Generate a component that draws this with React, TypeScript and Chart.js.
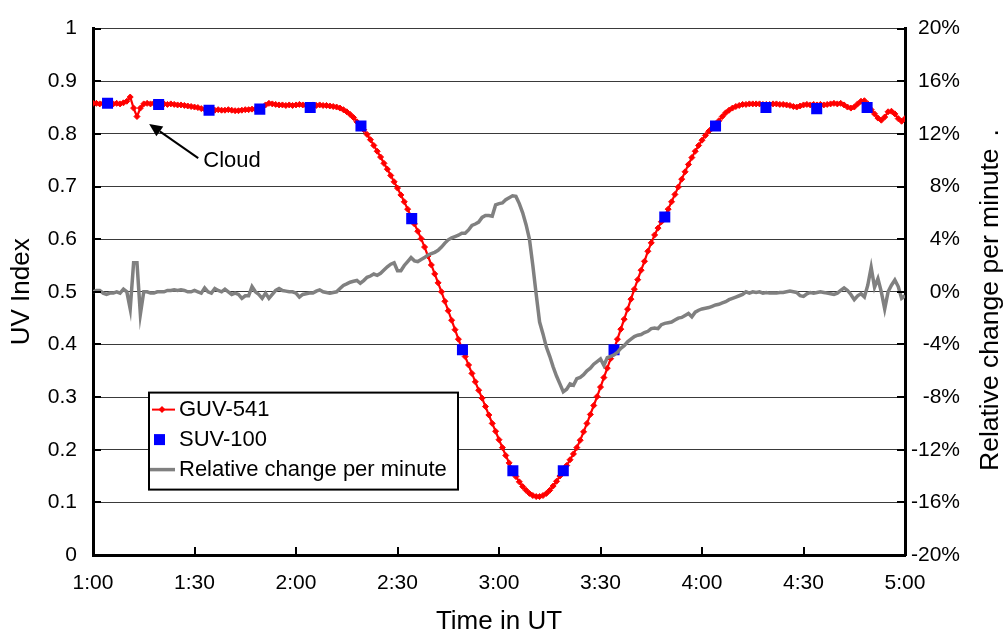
import React, { useEffect, useRef } from 'react';
import { Chart, registerables } from 'chart.js';

Chart.register(...registerables);

// ---------------- data ----------------
const X_TICK_LABELS = ['1:00', '1:30', '2:00', '2:30', '3:00', '3:30', '4:00', '4:30', '5:00'];

// GUV-541 UV index, one value per minute from 1:00 (index 0) to 5:00 (index 240)
const GUV_541 = [
  0.858, 0.858, 0.857, 0.858, 0.859, 0.858, 0.857, 0.858, 0.857, 0.859,
  0.862, 0.870, 0.849, 0.833, 0.849, 0.857, 0.858, 0.857, 0.858, 0.857,
  0.858, 0.857, 0.856, 0.857, 0.856, 0.855, 0.855, 0.854, 0.853, 0.852,
  0.851, 0.850, 0.848, 0.847, 0.846, 0.845, 0.845, 0.846, 0.845, 0.845,
  0.846, 0.845, 0.844, 0.844, 0.845, 0.846, 0.846, 0.847, 0.847, 0.848,
  0.851, 0.855, 0.858, 0.857, 0.856, 0.855, 0.855, 0.854, 0.855, 0.854,
  0.855, 0.856, 0.855, 0.854, 0.854, 0.855, 0.854, 0.855, 0.854, 0.854,
  0.853, 0.852, 0.851, 0.849, 0.846, 0.842, 0.837, 0.831, 0.823, 0.816,
  0.808, 0.799, 0.789, 0.778, 0.767, 0.756, 0.744, 0.733, 0.721, 0.709,
  0.697, 0.684, 0.671, 0.657, 0.643, 0.629, 0.615, 0.601, 0.585, 0.568,
  0.551, 0.534, 0.517, 0.500, 0.482, 0.464, 0.446, 0.428, 0.410, 0.393,
  0.377, 0.361, 0.345, 0.329, 0.313, 0.298, 0.282, 0.266, 0.250, 0.235,
  0.219, 0.204, 0.189, 0.175, 0.161, 0.149, 0.139, 0.130, 0.123, 0.117,
  0.113, 0.111, 0.111, 0.113, 0.117, 0.123, 0.131, 0.140, 0.150, 0.160,
  0.170, 0.181, 0.192, 0.204, 0.218, 0.234, 0.250, 0.267, 0.284, 0.301,
  0.319, 0.337, 0.355, 0.373, 0.391, 0.410, 0.429, 0.448, 0.467, 0.486,
  0.505, 0.523, 0.541, 0.558, 0.577, 0.593, 0.608, 0.621, 0.633, 0.644,
  0.657, 0.671, 0.685, 0.699, 0.714, 0.728, 0.742, 0.755, 0.767, 0.778,
  0.788, 0.797, 0.805, 0.811, 0.817, 0.825, 0.833, 0.840, 0.845, 0.849,
  0.852, 0.854, 0.856, 0.856, 0.857, 0.857, 0.857, 0.857, 0.856, 0.856,
  0.856, 0.857, 0.857, 0.856, 0.856, 0.855, 0.854, 0.852, 0.851, 0.853,
  0.855, 0.856, 0.855, 0.856, 0.855, 0.856, 0.855, 0.856, 0.857, 0.858,
  0.857, 0.858, 0.855, 0.851, 0.849, 0.851, 0.857, 0.862, 0.863, 0.857,
  0.846, 0.838, 0.830, 0.826, 0.832, 0.842, 0.843, 0.838, 0.829, 0.824,
  0.829,
];

// SUV-100 scans: minutes after 1:00 and UV index
const SUV_100_MINUTES = [4.3, 19.4, 34.3, 49.3, 64.2, 79.2, 94.2, 109.2, 124.1, 139.0, 154.0, 169.0, 184.0, 198.9, 213.9, 228.8];
const SUV_100 = [0.858, 0.856, 0.845, 0.847, 0.850, 0.815, 0.639, 0.390, 0.160, 0.160, 0.390, 0.642, 0.815, 0.850, 0.848, 0.850];

// Relative change per minute (%), one value per minute from 1:00 to 5:00
const REL_CHANGE = [
  0.0, 0.1, 0.1, -0.1, -0.2, -0.1, -0.1, 0.0, -0.1, 0.2,
  0.0, -1.3, 2.2, 2.2, -1.7, 0.0, 0.0, -0.1, -0.1, 0.0,
  0.0, 0.0, 0.1, 0.1, 0.15, 0.1, 0.15, 0.1, 0.0, 0.0,
  0.1, 0.0, -0.1, 0.3, 0.0, -0.1, 0.25, 0.1, 0.0, 0.2,
  0.0, -0.2, -0.1, -0.2, -0.5, -0.3, -0.3, 0.4, 0.0, -0.2,
  -0.5, -0.1, -0.5, -0.2, 0.1, 0.25, 0.1, 0.05, 0.0, 0.0,
  -0.1, -0.4, -0.2, -0.15, -0.1, -0.1, 0.05, 0.15, 0.0, -0.05,
  -0.1, -0.05, 0.0, 0.25, 0.48, 0.6, 0.73, 0.8, 0.86, 0.65,
  0.85, 1.1, 1.2, 1.35, 1.25, 1.4, 1.65, 1.9, 2.1, 2.2,
  1.6, 1.6, 2.0, 2.3, 2.6, 2.35, 2.3, 2.45, 2.6, 2.8,
  2.9, 3.0, 3.15, 3.4, 3.7, 3.95, 4.1, 4.2, 4.3, 4.45,
  4.45, 4.7, 5.05, 5.15, 5.3, 5.65, 5.8, 5.8, 5.75, 6.6,
  6.7, 6.75, 7.0, 7.15, 7.3, 7.25, 6.7, 6.0, 5.1, 4.0,
  2.0, -0.2, -2.3, -3.2, -4.2, -4.9, -5.7, -6.4, -7.0, -7.6,
  -7.4, -7.0, -7.1, -6.6, -6.5, -6.3, -6.0, -5.8, -5.5, -5.3,
  -5.1, -5.6, -5.0, -4.9, -4.8, -4.6, -4.3, -4.1, -3.8, -3.6,
  -3.4, -3.3, -3.25, -3.1, -3.0, -2.8, -2.75, -2.8, -2.5, -2.4,
  -2.35, -2.3, -2.15, -2.0, -1.95, -1.8, -1.65, -1.9, -1.55, -1.4,
  -1.3, -1.25, -1.2, -1.1, -1.0, -0.95, -0.85, -0.75, -0.6, -0.5,
  -0.4, -0.3, -0.2, 0.0, -0.1, 0.0, -0.05, 0.0, -0.1, -0.05,
  -0.1, -0.1, -0.1, -0.05, -0.05, 0.0, 0.05, 0.0, -0.05, -0.3,
  -0.35, -0.15, -0.05, -0.1, -0.05, 0.0, -0.05, -0.1, -0.15, -0.2,
  -0.1, 0.1, 0.3, 0.1, -0.2, -0.6, -0.3, -0.15, -0.4, 0.5,
  1.85, 0.35, 1.0, 0.0, -1.3, 0.0, 0.5, 0.9, 0.4, -0.5,
  -0.3,
];

const SERIES_NAMES = ['GUV-541', 'SUV-100', 'Relative change per minute'];
const X_TITLE = 'Time in UT';
const Y_TITLE = 'UV Index';
const Y2_TITLE = 'Relative change per minute';

// "Cloud" note, anchored in data coordinates (minutes after 1:00, UV index)
const CLOUD_LABEL = 'Cloud';
const CLOUD_TIP = { x: 16.6, y: 0.819 };
const CLOUD_TAIL = { x: 31.1, y: 0.754 };
const CLOUD_TEXT = { x: 32.6, y: 0.748 };

// ---------------- styles ----------------
const FONT = '"Liberation Sans", Arial, Helvetica, sans-serif';
const RED = '#FF0000';
const BLUE = '#0000FF';
const GRAY = '#808080';

const decorPlugin = {
  id: 'decor',
  afterDraw(chart: any) {
    const { ctx, chartArea: ca, scales } = chart;
    const xs = scales.x;
    const ys = scales.y;
    const y2s = scales.y2;
    ctx.save();

    // inward tick marks
    ctx.strokeStyle = '#000';
    ctx.lineWidth = 2;
    ctx.beginPath();
    ys.ticks.forEach((t: any) => {
      const py = Math.round(ys.getPixelForValue(t.value));
      ctx.moveTo(ca.left, py);
      ctx.lineTo(ca.left + 8, py);
    });
    y2s.ticks.forEach((t: any) => {
      const py = Math.round(y2s.getPixelForValue(t.value));
      ctx.moveTo(ca.right - 8, py);
      ctx.lineTo(ca.right, py);
    });
    xs.ticks.forEach((t: any) => {
      const px = Math.round(xs.getPixelForValue(t.value));
      ctx.moveTo(px, ca.bottom);
      ctx.lineTo(px, ca.bottom - 8);
    });
    ctx.stroke();

    // Cloud arrow + label
    const tipX = xs.getPixelForValue(CLOUD_TIP.x);
    const tipY = ys.getPixelForValue(CLOUD_TIP.y);
    const tailX = xs.getPixelForValue(CLOUD_TAIL.x);
    const tailY = ys.getPixelForValue(CLOUD_TAIL.y);
    const ang = Math.atan2(tipY - tailY, tipX - tailX);
    const headLen = 13;
    const headW = 6;
    const baseX = tipX - headLen * Math.cos(ang);
    const baseY = tipY - headLen * Math.sin(ang);
    ctx.strokeStyle = '#000';
    ctx.fillStyle = '#000';
    ctx.lineWidth = 2;
    ctx.beginPath();
    ctx.moveTo(tailX, tailY);
    ctx.lineTo(baseX, baseY);
    ctx.stroke();
    ctx.beginPath();
    ctx.moveTo(tipX, tipY);
    ctx.lineTo(baseX + headW * Math.sin(ang), baseY - headW * Math.cos(ang));
    ctx.lineTo(baseX - headW * Math.sin(ang), baseY + headW * Math.cos(ang));
    ctx.closePath();
    ctx.fill();
    ctx.font = `22px ${FONT}`;
    ctx.textAlign = 'left';
    ctx.textBaseline = 'middle';
    ctx.fillText(CLOUD_LABEL, xs.getPixelForValue(CLOUD_TEXT.x), ys.getPixelForValue(CLOUD_TEXT.y));

    // legend box
    const lx = ca.left + 56;
    const ly = ca.top + 364;
    const lw = 309;
    const lh = 97;
    ctx.fillStyle = '#fff';
    ctx.fillRect(lx, ly, lw, lh);
    ctx.strokeStyle = '#000';
    ctx.lineWidth = 2;
    ctx.strokeRect(lx, ly, lw, lh);
    const rows = [ly + 17, ly + 47, ly + 77];
    // GUV-541 sample
    ctx.strokeStyle = RED;
    ctx.lineWidth = 2;
    ctx.beginPath();
    ctx.moveTo(lx + 3, rows[0]);
    ctx.lineTo(lx + 26, rows[0]);
    ctx.stroke();
    ctx.fillStyle = RED;
    ctx.beginPath();
    ctx.moveTo(lx + 13, rows[0] - 3.5);
    ctx.lineTo(lx + 16.5, rows[0]);
    ctx.lineTo(lx + 13, rows[0] + 3.5);
    ctx.lineTo(lx + 9.5, rows[0]);
    ctx.closePath();
    ctx.fill();
    // SUV-100 sample
    ctx.fillStyle = BLUE;
    ctx.fillRect(lx + 5, rows[1] - 5.5, 11, 11);
    // relative change sample
    ctx.strokeStyle = GRAY;
    ctx.lineWidth = 3.5;
    ctx.beginPath();
    ctx.moveTo(lx + 1, rows[2]);
    ctx.lineTo(lx + 26, rows[2]);
    ctx.stroke();
    ctx.fillStyle = '#000';
    ctx.font = `22px ${FONT}`;
    ctx.textAlign = 'left';
    ctx.textBaseline = 'middle';
    SERIES_NAMES.forEach((n, i) => ctx.fillText(n, lx + 30, rows[i]));

    // right axis title (reads bottom to top)
    ctx.save();
    ctx.translate(991, ca.bottom - 84);
    ctx.rotate(-Math.PI / 2);
    ctx.font = `26.5px ${FONT}`;
    ctx.textAlign = 'left';
    ctx.textBaseline = 'middle';
    ctx.fillText(Y2_TITLE, 0, 0);
    ctx.fillText('.', ca.bottom - 84 - (ca.top + 108), 0);
    ctx.restore();

    ctx.restore();
  },
};

export default function App() {
  const canvasRef = useRef<HTMLCanvasElement | null>(null);

  useEffect(() => {
    const canvas = canvasRef.current;
    if (!canvas) return;
    Chart.defaults.font.family = FONT;
    Chart.defaults.color = '#000';

    const chart = new Chart(canvas, {
      type: 'line',
      data: {
        datasets: [
          {
            label: SERIES_NAMES[2],
            data: REL_CHANGE.map((v, i) => ({ x: i, y: v })),
            yAxisID: 'y2',
            borderColor: GRAY,
            borderWidth: 3.5,
            pointRadius: 0,
            tension: 0,
            order: 0,
          },
          {
            label: SERIES_NAMES[1],
            data: SUV_100.map((v, i) => ({ x: SUV_100_MINUTES[i], y: v })),
            yAxisID: 'y',
            showLine: false,
            pointStyle: 'rect',
            pointRadius: 7.8,
            pointBackgroundColor: BLUE,
            pointBorderColor: BLUE,
            pointBorderWidth: 0,
            order: 1,
          },
          {
            label: SERIES_NAMES[0],
            data: GUV_541.map((v, i) => ({ x: i, y: v })),
            yAxisID: 'y',
            borderColor: RED,
            borderWidth: 2.2,
            pointStyle: 'rectRot',
            pointRadius: 3,
            pointBackgroundColor: RED,
            pointBorderColor: RED,
            pointBorderWidth: 1,
            tension: 0,
            order: 2,
          },
        ],
      },
      options: {
        responsive: false,
        devicePixelRatio: 1,
        animation: false,
        events: [],
        layout: { padding: { top: 18, left: 0, right: 48, bottom: 0 } },
        plugins: {
          legend: { display: false },
          tooltip: { enabled: false },
        },
        scales: {
          x: {
            type: 'linear',
            min: 0,
            max: 240,
            afterFit: (s: any) => { s.height = 81; },
            grid: { display: true, drawOnChartArea: false, drawTicks: false },
            border: { display: true, color: '#000', width: 3 },
            ticks: {
              stepSize: 30,
              autoSkip: false,
              maxRotation: 0,
              padding: 16,
              font: { size: 21 },
              callback: (v: any) => X_TICK_LABELS[Math.round(Number(v) / 30)] ?? '',
            },
            title: {
              display: true,
              text: X_TITLE,
              font: { size: 26, lineHeight: 1 },
              padding: { top: 0, bottom: 1 },
            },
          },
          y: {
            position: 'left',
            min: 0,
            max: 1,
            afterFit: (s: any) => { s.width = 93; },
            grid: { color: '#3a3a3a', lineWidth: 1, drawTicks: false },
            border: { display: true, color: '#000', width: 3 },
            ticks: {
              stepSize: 0.1,
              padding: 16,
              font: { size: 21 },
              callback: (v: any) => String(Number(Number(v).toFixed(1))),
            },
            title: {
              display: true,
              text: Y_TITLE,
              font: { size: 26, lineHeight: 1 },
              padding: { top: 9, bottom: 0 },
            },
          },
          y2: {
            position: 'right',
            min: -20,
            max: 20,
            afterFit: (s: any) => { s.width = 55; },
            grid: { drawOnChartArea: false, drawTicks: false },
            border: { display: true, color: '#000', width: 3 },
            ticks: {
              stepSize: 4,
              padding: 10,
              crossAlign: 'far',
              font: { size: 21 },
              callback: (v: any) => `${Math.round(Number(v))}%`,
            },
          },
        },
      },
      plugins: [decorPlugin],
    } as any);

    return () => chart.destroy();
  }, []);

  return (
    <div style={{ position: 'fixed', left: 0, top: 0, width: 1008, height: 636, background: '#fff' }}>
      <canvas ref={canvasRef} width={1008} height={636} style={{ width: 1008, height: 636, display: 'block' }} />
    </div>
  );
}
